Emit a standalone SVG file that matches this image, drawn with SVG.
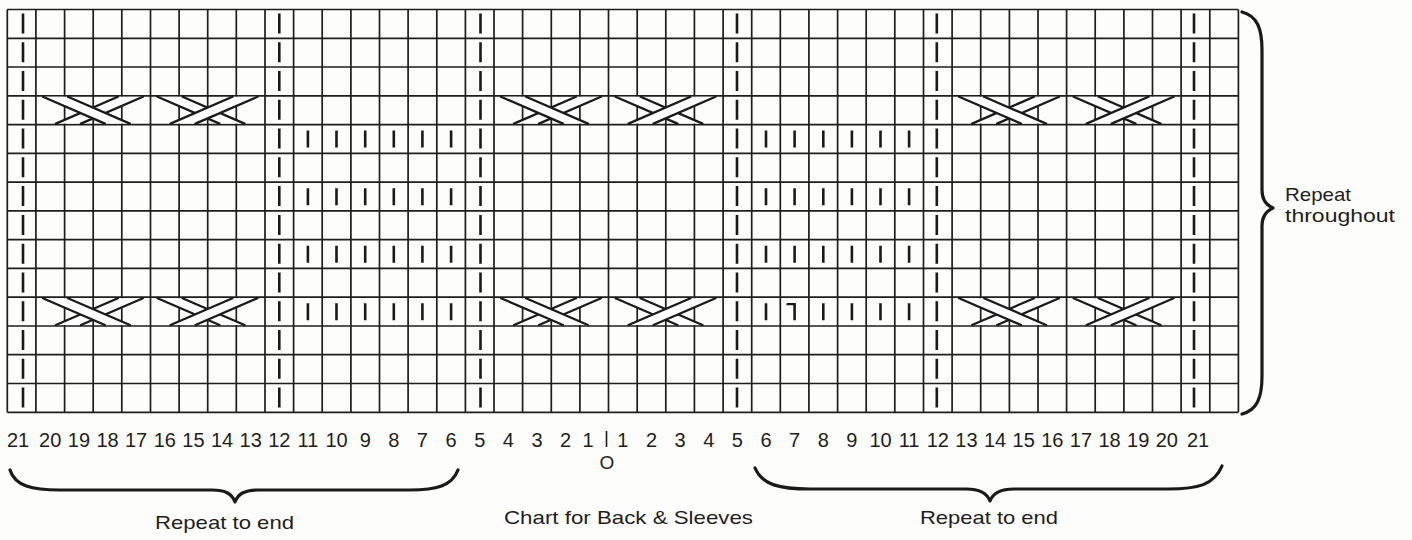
<svg xmlns="http://www.w3.org/2000/svg" xmlns:xlink="http://www.w3.org/1999/xlink" width="1412" height="540" viewBox="0 0 1412 540">
<style>
.grid{stroke:#1e1e1e;stroke-width:1.7;fill:none}
.dash{stroke:#1a1a1a;stroke-width:2.6;stroke-dasharray:20 8.77;fill:none}
.purl{stroke:#1a1a1a;stroke-width:2.6;stroke-dasharray:17 40.54;fill:none}
.rib{fill:#ffffff;stroke:none}
.rl{stroke:#1a1a1a;stroke-width:2.3;fill:none;stroke-linecap:round}
.brace{stroke:#1a1a1a;stroke-width:3.2;fill:none;stroke-linecap:round;stroke-linejoin:round}
.num{font-family:"Liberation Sans",Arial,sans-serif;font-size:20px;fill:#1e1e1e;text-anchor:middle}
.lbl{font-family:"Liberation Sans",Arial,sans-serif;font-size:19px;fill:#1e1e1e}
</style>
<defs>
<g id="cableL">
<polygon class="rib" points="20,27.8 45,27.8 107,1 82,1"/>
<path class="rl" d="M20,27.8 L82,1 M45,27.8 L107,1"/>
<polygon class="rib" points="7,1 32,1 94,27.8 69,27.8"/>
<path class="rl" d="M7,1 L69,27.8 M32,1 L94,27.8"/>
</g>
<g id="cableR">
<polygon class="rib" points="7,1 32,1 94,27.8 69,27.8"/>
<path class="rl" d="M7,1 L69,27.8 M32,1 L94,27.8"/>
<polygon class="rib" points="20,27.8 45,27.8 107,1 82,1"/>
<path class="rl" d="M20,27.8 L82,1 M45,27.8 L107,1"/>
</g>
</defs>
<rect x="0" y="0" width="1412" height="540" fill="#fdfdfb"/>
<g id="grid">
<path class="grid" d="M7.3,9.5V412.3 M35.9,9.5V412.3 M64.6,9.5V412.3 M93.2,9.5V412.3 M121.8,9.5V412.3 M150.5,9.5V412.3 M179.1,9.5V412.3 M207.7,9.5V412.3 M236.3,9.5V412.3 M265,9.5V412.3 M293.6,9.5V412.3 M322.2,9.5V412.3 M350.9,9.5V412.3 M379.5,9.5V412.3 M408.1,9.5V412.3 M436.8,9.5V412.3 M465.4,9.5V412.3 M494,9.5V412.3 M522.6,9.5V412.3 M551.3,9.5V412.3 M579.9,9.5V412.3 M608.5,9.5V412.3 M637.2,9.5V412.3 M665.8,9.5V412.3 M694.4,9.5V412.3 M723.1,9.5V412.3 M751.7,9.5V412.3 M780.3,9.5V412.3 M808.9,9.5V412.3 M837.6,9.5V412.3 M866.2,9.5V412.3 M894.8,9.5V412.3 M923.5,9.5V412.3 M952.1,9.5V412.3 M980.7,9.5V412.3 M1009.4,9.5V412.3 M1038,9.5V412.3 M1066.6,9.5V412.3 M1095.2,9.5V412.3 M1123.9,9.5V412.3 M1152.5,9.5V412.3 M1181.1,9.5V412.3 M1209.8,9.5V412.3 M1238.4,9.5V412.3"/>
<path class="grid" d="M7.3,9.5H1238.4 M7.3,38.3H1238.4 M7.3,67H1238.4 M7.3,95.8H1238.4 M7.3,124.6H1238.4 M7.3,153.4H1238.4 M7.3,182.1H1238.4 M7.3,210.9H1238.4 M7.3,239.7H1238.4 M7.3,268.4H1238.4 M7.3,297.2H1238.4 M7.3,326H1238.4 M7.3,354.7H1238.4 M7.3,383.5H1238.4 M7.3,412.3H1238.4"/>
</g>
<g id="repeat-markers">
<path class="dash" d="M23,13.5V412 M279.3,13.5V412 M480.5,13.5V412 M737,13.5V412 M936.8,13.5V412 M1194,13.5V412"/>
</g>
<g id="purl-stitches">
<path class="purl" d="M307.9,130.6V321 M336.5,130.6V321 M365.2,130.6V321 M393.8,130.6V321 M422.4,130.6V321 M451.1,130.6V321"/>
<path class="purl" d="M766,130.6V321 M794.6,130.6V321 M823.3,130.6V321 M851.9,130.6V321 M880.5,130.6V321 M909.1,130.6V321"/>
<path class="rl" d="M787.5,304.2H794.6"/>
</g>
<g id="cables">
<use xlink:href="#cableL" transform="translate(35.9,95.8)"/>
<use xlink:href="#cableR" transform="translate(150.5,95.8)"/>
<use xlink:href="#cableL" transform="translate(494,95.8)"/>
<use xlink:href="#cableR" transform="translate(608.5,95.8)"/>
<use xlink:href="#cableL" transform="translate(952.1,95.8)"/>
<use xlink:href="#cableR" transform="translate(1066.6,95.8)"/>
<use xlink:href="#cableL" transform="translate(35.9,297.2)"/>
<use xlink:href="#cableR" transform="translate(150.5,297.2)"/>
<use xlink:href="#cableL" transform="translate(494,297.2)"/>
<use xlink:href="#cableR" transform="translate(608.5,297.2)"/>
<use xlink:href="#cableL" transform="translate(952.1,297.2)"/>
<use xlink:href="#cableR" transform="translate(1066.6,297.2)"/>
</g>
<g id="stitch-numbers">
<text class="num" x="18" y="447">21</text>
<text class="num" x="50.2" y="447">20</text>
<text class="num" x="78.9" y="447">19</text>
<text class="num" x="107.5" y="447">18</text>
<text class="num" x="136.1" y="447">17</text>
<text class="num" x="164.8" y="447">16</text>
<text class="num" x="193.4" y="447">15</text>
<text class="num" x="222" y="447">14</text>
<text class="num" x="250.7" y="447">13</text>
<text class="num" x="279.3" y="447">12</text>
<text class="num" x="307.9" y="447">11</text>
<text class="num" x="336.5" y="447">10</text>
<text class="num" x="365.2" y="447">9</text>
<text class="num" x="393.8" y="447">8</text>
<text class="num" x="422.4" y="447">7</text>
<text class="num" x="451.1" y="447">6</text>
<text class="num" x="479.7" y="447">5</text>
<text class="num" x="508.3" y="447">4</text>
<text class="num" x="537" y="447">3</text>
<text class="num" x="565.6" y="447">2</text>
<text class="num" x="588" y="447">1</text>
<line x1="606.5" y1="431" x2="606.5" y2="447" stroke="#1e1e1e" stroke-width="1.6"/>
<text class="num" x="622.8" y="447">1</text>
<text class="num" x="651.5" y="447">2</text>
<text class="num" x="680.1" y="447">3</text>
<text class="num" x="708.7" y="447">4</text>
<text class="num" x="737.4" y="447">5</text>
<text class="num" x="766" y="447">6</text>
<text class="num" x="794.6" y="447">7</text>
<text class="num" x="823.3" y="447">8</text>
<text class="num" x="851.9" y="447">9</text>
<text class="num" x="880.5" y="447">10</text>
<text class="num" x="909.1" y="447">11</text>
<text class="num" x="937.8" y="447">12</text>
<text class="num" x="966.4" y="447">13</text>
<text class="num" x="995" y="447">14</text>
<text class="num" x="1023.7" y="447">15</text>
<text class="num" x="1052.3" y="447">16</text>
<text class="num" x="1080.9" y="447">17</text>
<text class="num" x="1109.6" y="447">18</text>
<text class="num" x="1138.2" y="447">19</text>
<text class="num" x="1166.8" y="447">20</text>
<text class="num" x="1198" y="447">21</text>
<text class="num" x="607" y="469" style="font-size:19px">O</text>
</g>
<g id="braces">
<path class="brace" d="M10,470 C15,486 32,490 60,490 L212,490 C226,490 232,494 235,502 C238,494 244,490 258,490 L410,490 C436,490 452,486 458,470"/>
<path class="brace" d="M755,468 C762,485 780,489 810,489 L966,489 C980,489 987,493 990,501 C993,493 1000,489 1014,489 L1168,489 C1198,489 1214,485 1222,466"/>
<path class="brace" d="M1242,12 C1257,16 1262,28 1262,50 L1262,190 C1262,200 1266,205 1273,208 C1266,211 1262,216 1262,226 L1262,376 C1262,398 1257,410 1242,414"/>
</g>
<g id="labels">
<text class="lbl" x="155" y="529" textLength="139" lengthAdjust="spacingAndGlyphs">Repeat to end</text>
<text class="lbl" x="504" y="524" textLength="249" lengthAdjust="spacingAndGlyphs">Chart for Back &amp; Sleeves</text>
<text class="lbl" x="920" y="524" textLength="138" lengthAdjust="spacingAndGlyphs">Repeat to end</text>
<text class="lbl" x="1285" y="201" textLength="66" lengthAdjust="spacingAndGlyphs">Repeat</text>
<text class="lbl" x="1285" y="222" textLength="110" lengthAdjust="spacingAndGlyphs">throughout</text>
</g>
</svg>
